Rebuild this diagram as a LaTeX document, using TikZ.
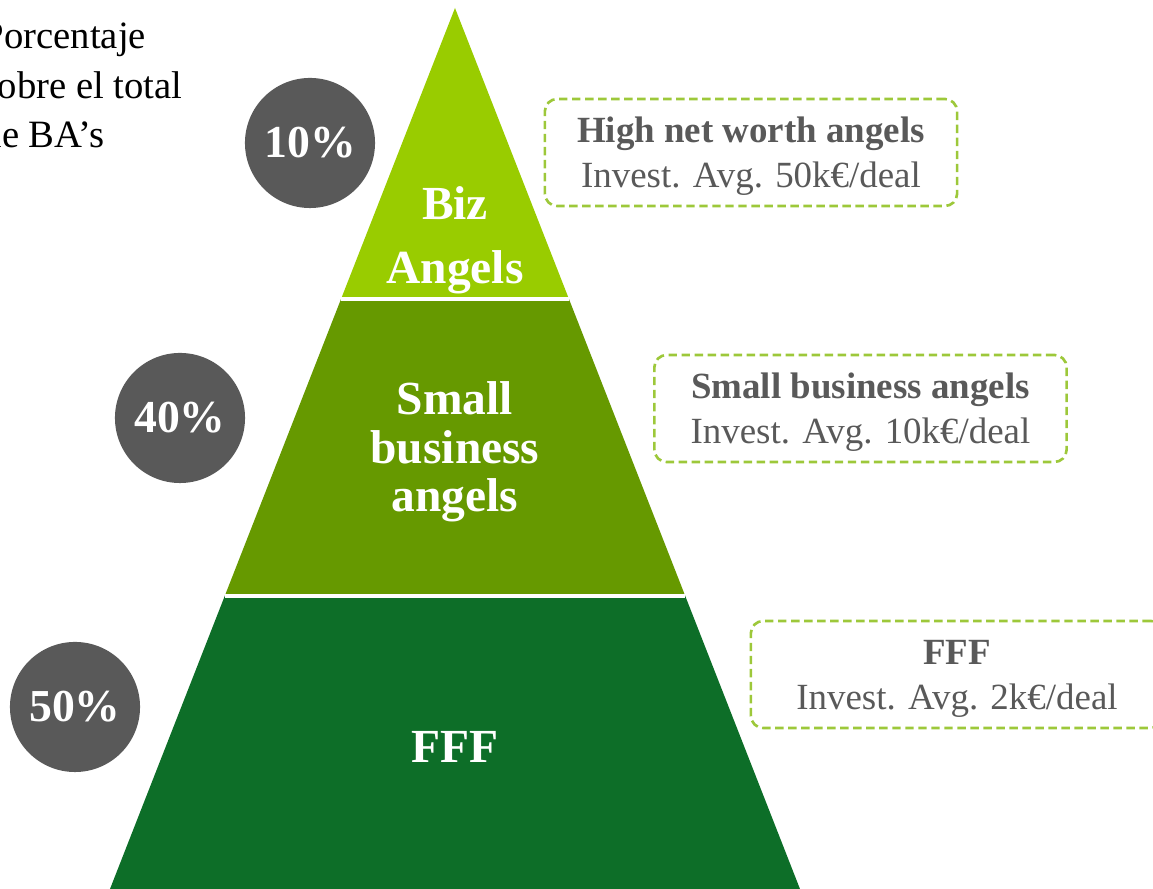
\documentclass[tikz,border=0pt]{standalone}
\usepackage{fontspec}
\setmainfont{Liberation Serif}
\usetikzlibrary{calc}

\definecolor{bizgreen}{HTML}{99CC00}
\definecolor{smallgreen}{HTML}{669900}
\definecolor{fffgreen}{HTML}{0D6E28}
\definecolor{pctgray}{HTML}{595959}
\definecolor{boxline}{HTML}{9DC83A}

\tikzset{
  pct/.style={circle, fill=pctgray, text=white, minimum size=1.3cm, inner sep=0pt,
    font=\fontsize{13}{15}\selectfont\bfseries},
  layer/.style={text=white, align=center, font=\fontsize{13.5}{13.8}\selectfont\bfseries},
  infobox/.style={draw=boxline, line width=0.75pt, dash pattern=on 2.4pt off 1.3pt,
    rounded corners=3.5pt, minimum width=4.12cm, minimum height=1.07cm, text depth=0pt,
    align=center, text=pctgray, font=\fontsize{10.5}{12.8}\selectfont},
}

\begin{document}
\begin{tikzpicture}[x=0.01cm,y=-0.01cm]
  \useasboundingbox (0,0) rectangle (1153,889);
  \clip (0,0) rectangle (1153,889);

  \coordinate (top) at (455,8);
  \coordinate (bl) at (110,889);
  \coordinate (br) at (800,889);
  \coordinate (l1) at ($(top)!0.3303!(bl)$);
  \coordinate (r1) at ($(top)!0.3303!(br)$);
  \coordinate (l2) at ($(top)!0.6674!(bl)$);
  \coordinate (r2) at ($(top)!0.6674!(br)$);

  % pyramid
  \fill[bizgreen] (top) -- (r1) -- (l1) -- cycle;
  \fill[smallgreen] (l1) -- (r1) -- (r2) -- (l2) -- cycle;
  \fill[fffgreen] (l2) -- (r2) -- (br) -- (bl) -- cycle;
  \draw[white, line width=0.9pt] (l1) -- (r1);
  \draw[white, line width=0.9pt] (l2) -- (r2);

  \node[layer] (biz) at (455,240) {Biz\\[4.5pt]Angels};
  \node[layer] (small) at (455,452) {Small\\business\\angels};
  \node[layer] (fff) at (455,747) {FFF};

  % percentages
  \node[pct] (p10) at (310,143) {10\%};
  \node[pct] (p40) at (180,418) {40\%};
  \node[pct] (p50) at (75,707) {50\%};

  \node[anchor=base west, align=left, inner sep=0pt, font=\fontsize{11}{14.2}\selectfont] (title)
    at (-18,148) {Porcentaje\\sobre el total\\de BA's};

  % boxes
  \node[infobox] (hnw) at (751,152.5) {\textbf{High net worth angels}\\Invest. Avg. 50k€/deal};
  \node[infobox] (sba) at (860.5,408.5) {\textbf{Small business angels}\\Invest. Avg. 10k€/deal};
  \node[infobox] (ffb) at (957,674.5) {\textbf{FFF}\\Invest. Avg. 2k€/deal};
\end{tikzpicture}
\end{document}
